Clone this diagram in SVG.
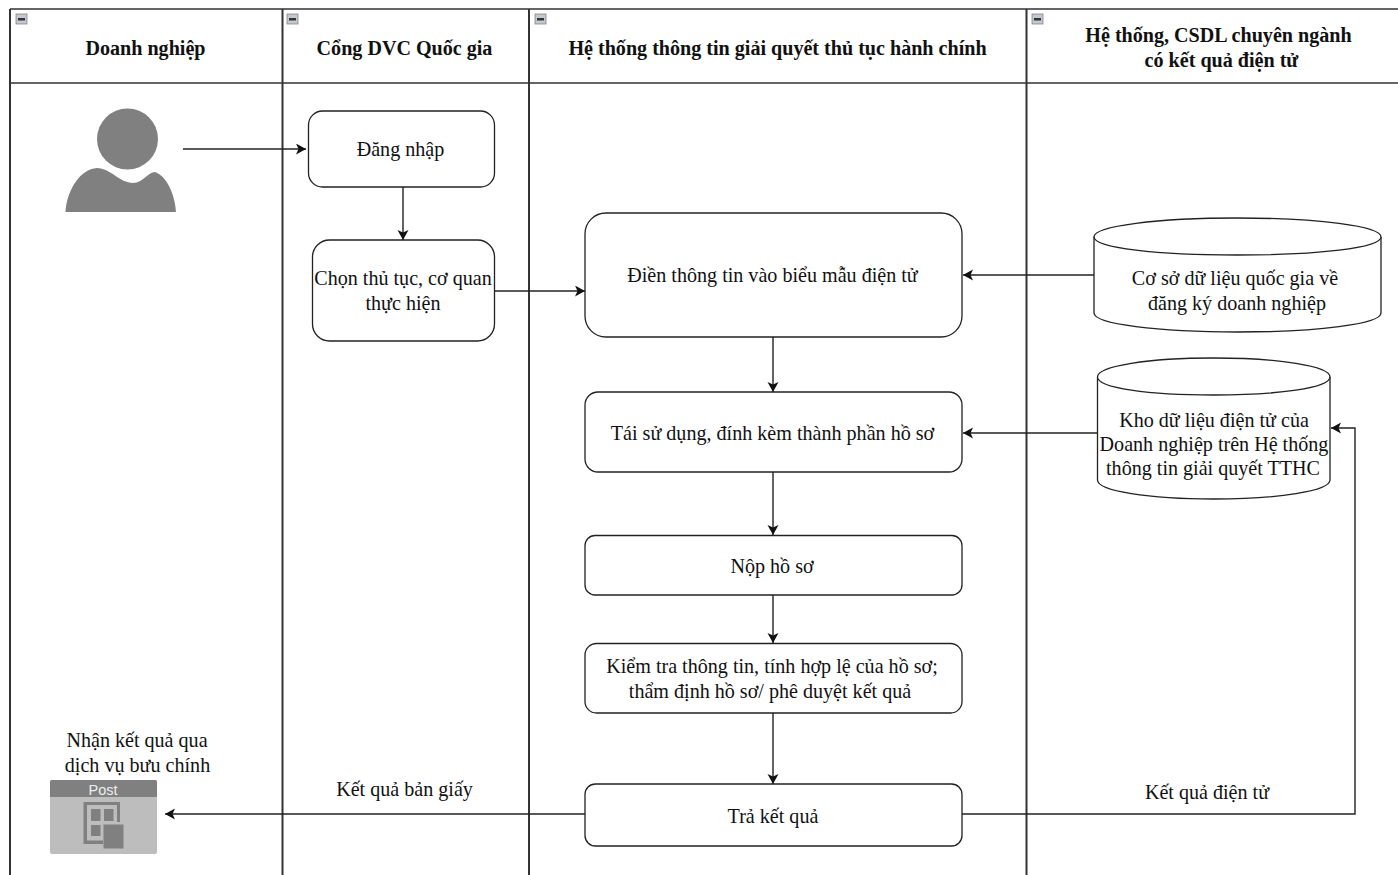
<svg xmlns="http://www.w3.org/2000/svg" width="1398" height="875" viewBox="0 0 1398 875">
<style>
text{font-family:"Liberation Serif","Times New Roman",serif;font-size:20.100px;fill:#111;text-anchor:middle}
.h{font-weight:bold}
.box{fill:#fff;stroke:#222;stroke-width:1.3}
.lane{fill:none;stroke:#333;stroke-width:2}
.thin{fill:none;stroke:#333;stroke-width:1.5}
.c{fill:none;stroke:#222;stroke-width:1.4;marker-end:url(#a)}
.g{fill:#808080}
</style>
<defs>
<marker id="a" markerUnits="userSpaceOnUse" markerWidth="12" markerHeight="12" refX="10" refY="5.5" orient="auto"><path d="M0 0L10 5.5L0 11L2.5 5.5Z" fill="#111"/></marker>
<g id="mini"><rect x="0" y="0" width="11" height="10" fill="#c4c8d0" stroke="#777" stroke-width=".7"/><rect x="2" y="4" width="7" height="2.5" fill="#333"/></g>
</defs>
<rect width="1398" height="875" fill="#fff"/>
<g id="lanes">
<path class="thin" d="M10 9H1398M10 83H1398"/>
<path class="lane" d="M10 9V875M282.500 9V875M529 9V875M1026.500 9V875"/>
<use href="#mini" x="16" y="14"/><use href="#mini" x="287" y="14"/><use href="#mini" x="535" y="14"/><use href="#mini" x="1032" y="14"/>
<text class="h" x="145.500" y="54.500">Doanh nghiệp</text>
<text class="h" x="404.500" y="54.500">Cổng DVC Quốc gia</text>
<text class="h" x="777.500" y="54.500">Hệ thống thông tin giải quyết thủ tục hành chính</text>
<text class="h" x="1218.500" y="41.500">Hệ thống, CSDL chuyên ngành</text>
<text class="h" x="1221.500" y="66.500">có kết quả điện tử</text>
</g>
<g id="connectors">
<path class="c" d="M183 149H306"/>
<path class="c" d="M403 187V240"/>
<path class="c" d="M495 291H585"/>
<path class="c" d="M1094 275H963"/>
<path class="c" d="M773 337V392"/>
<path class="c" d="M1098 433H963"/>
<path class="c" d="M773 472V535"/>
<path class="c" d="M773 595V643"/>
<path class="c" d="M773 713V784"/>
<path class="c" d="M585 814H165"/>
<path class="c" d="M962 814H1355V428H1331"/>
</g>
<g id="user"><circle class="g" cx="127.500" cy="139" r="30.500"/><path class="g" d="M65.500 212C67 190 80 169 97 168C110 168 120 183 133 183C143 183 148 172 155 172C167 176 175 195 176 212Z"/></g>
<g id="login"><rect class="box" x="308.500" y="111" width="186" height="76" rx="14"/><text x="400.500" y="155.500">Đăng nhập</text></g>
<g id="choose"><rect class="box" x="312.500" y="240" width="182" height="101" rx="17"/><text x="403" y="285">Chọn thủ tục, cơ quan</text><text x="403" y="310">thực hiện</text></g>
<g id="fill"><rect class="box" x="585" y="213" width="377" height="124" rx="21"/><text x="772.500" y="282">Điền thông tin vào biểu mẫu điện tử</text></g>
<g id="reuse"><rect class="box" x="585" y="392" width="377" height="80" rx="13"/><text x="772.500" y="440">Tái sử dụng, đính kèm thành phần hồ sơ</text></g>
<g id="submit"><rect class="box" x="585" y="535.500" width="377" height="59.500" rx="10"/><text x="772" y="573">Nộp hồ sơ</text></g>
<g id="check"><rect class="box" x="585" y="643.500" width="377" height="69.500" rx="11.500"/><text x="772" y="673">Kiểm tra thông tin, tính hợp lệ của hồ sơ;</text><text x="770" y="698">thẩm định hồ sơ/ phê duyệt kết quả</text></g>
<g id="result"><rect class="box" x="585" y="784" width="377" height="62" rx="10.500"/><text x="773" y="822.500">Trả kết quả</text></g>
<g id="db1"><path class="box" d="M1094 237C1094 226 1158 218 1237.500 218C1317 218 1381 226 1381 237V313C1381 324 1317 332 1237.500 332C1158 332 1094 324 1094 313Z"/><path class="box" d="M1094 237C1094 248 1158 255 1237.500 255C1317 255 1381 248 1381 237"/><text x="1235" y="285">Cơ sở dữ liệu quốc gia về</text><text x="1237" y="310">đăng ký doanh nghiệp</text></g>
<g id="db2"><path class="box" d="M1097.500 377C1097.500 366 1149 358 1213.500 358C1278 358 1330 366 1330 377V480C1330 491 1278 499 1213.500 499C1149 499 1097.500 491 1097.500 480Z"/><path class="box" d="M1097.500 377C1097.500 388 1149 395 1213.500 395C1278 395 1330 388 1330 377"/><text x="1214" y="427">Kho dữ liệu điện tử của</text><text x="1214" y="451">Doanh nghiệp trên Hệ thống</text><text x="1213" y="475">thông tin giải quyết TTHC</text></g>
<g id="post"><text x="137" y="747">Nhận kết quả qua</text><text x="137.500" y="772">dịch vụ bưu chính</text>
<rect x="50" y="780" width="107" height="74" rx="2" fill="#bdbdbd"/><path class="g" d="M50 797V782a2 2 0 0 1 2-2H155a2 2 0 0 1 2 2V797Z"/>
<text x="103" y="795" style="font-family:'Liberation Sans',Arial,sans-serif;font-size:14.500px;fill:#eee">Post</text>
<path class="g" d="M83.500 802H120V822H117V805H87V840.500H103V844H83.500Z"/><rect class="g" x="91" y="809" width="9.500" height="12"/><rect class="g" x="104" y="809" width="9.500" height="12"/><rect class="g" x="91" y="825" width="9.500" height="11"/><rect class="g" x="103.500" y="824.500" width="20" height="24"/></g>
<g id="labels"><text x="404.500" y="796">Kết quả bản giấy</text><text x="1207" y="799">Kết quả điện tử</text></g>
</svg>
